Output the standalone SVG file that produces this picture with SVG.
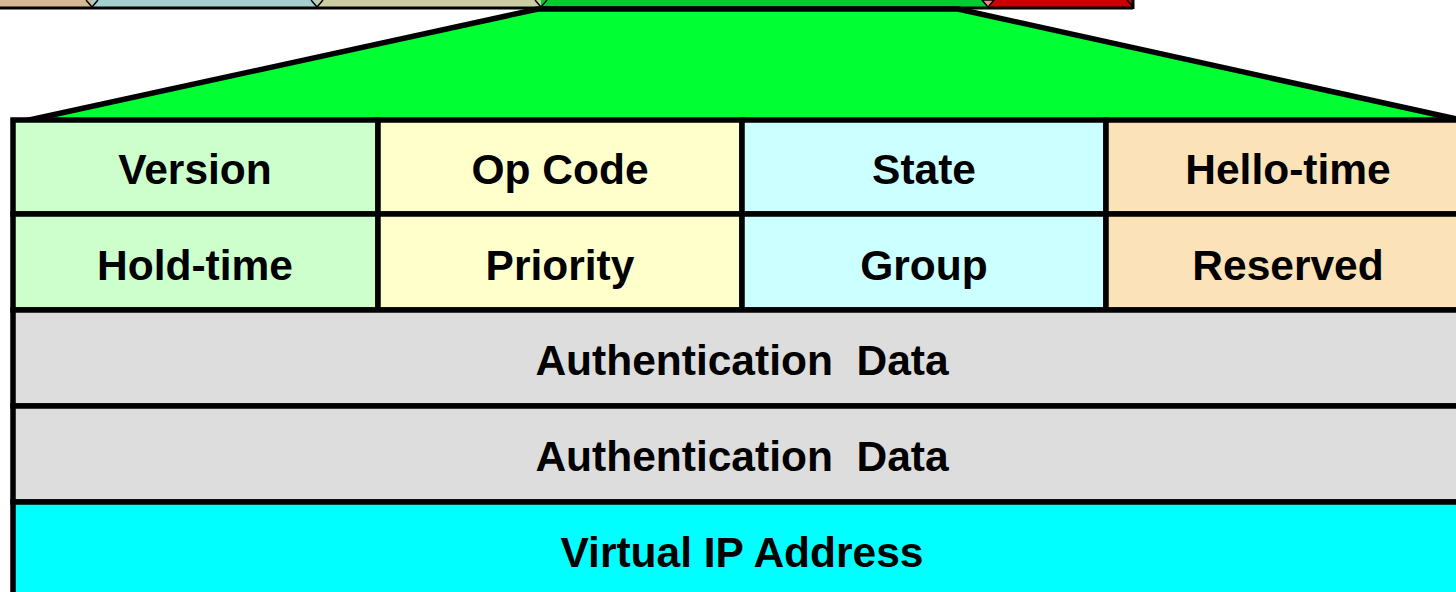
<svg xmlns="http://www.w3.org/2000/svg" width="1456" height="592" viewBox="0 0 1456 592">
<style>
.cell{stroke:#000;stroke-width:5.5}
.t{font-family:"Liberation Sans",Arial,sans-serif;font-weight:bold;font-size:42.5px;fill:#000;text-anchor:middle}
.arr{fill:none;stroke:#000;stroke-width:1.5}
</style>
<rect width="1456" height="592" fill="#fff"/>
<g id="top-strip">
<rect x="0" y="0" width="92" height="8" fill="#d4b896"/>
<rect x="92" y="0" width="225" height="8" fill="#a6cfcf"/>
<rect x="317" y="0" width="224" height="8" fill="#cccca3"/>
<rect x="541" y="0" width="447" height="8" fill="#00cc33"/>
<rect x="988" y="0" width="145" height="8" fill="#cc0000"/>
<line x1="0" y1="8" x2="1133" y2="8" stroke="#000" stroke-width="3"/>
<line x1="1133" y1="0" x2="1133" y2="9" stroke="#000" stroke-width="3"/>
<polyline class="arr" points="86,0 92,7 98,0"/>
<polyline class="arr" points="311,0 317,7 323,0"/>
<polyline class="arr" points="535,0 541,7 547,0"/>
<polygon points="982,0 988,7 994,0" fill="#ff8080" stroke="#000" stroke-width="1.5"/>
<polyline class="arr" points="1127,0 1133,7"/>
</g>
<g id="trapezoid">
<polygon points="538,9 958,9 1470,122 20,122" fill="#00ff33" stroke="#000" stroke-width="5.5" stroke-linejoin="round"/>
</g>
<g id="row1">
<g id="version"><rect class="cell" x="13" y="120" width="365" height="94" fill="#ccffcc"/><text class="t" x="195" y="184">Version</text></g>
<g id="opcode"><rect class="cell" x="378" y="120" width="364" height="94" fill="#ffffcc"/><text class="t" x="560" y="184">Op Code</text></g>
<g id="state"><rect class="cell" x="742" y="120" width="364" height="94" fill="#ccffff"/><text class="t" x="924" y="184">State</text></g>
<g id="hellotime"><rect class="cell" x="1106" y="120" width="364" height="94" fill="#fce2b8"/><text class="t" x="1288" y="184">Hello-time</text></g>
</g>
<g id="row2">
<g id="holdtime"><rect class="cell" x="13" y="214" width="365" height="96" fill="#ccffcc"/><text class="t" x="195" y="280">Hold-time</text></g>
<g id="priority"><rect class="cell" x="378" y="214" width="364" height="96" fill="#ffffcc"/><text class="t" x="560" y="280">Priority</text></g>
<g id="group"><rect class="cell" x="742" y="214" width="364" height="96" fill="#ccffff"/><text class="t" x="924" y="280">Group</text></g>
<g id="reserved"><rect class="cell" x="1106" y="214" width="364" height="96" fill="#fce2b8"/><text class="t" x="1288" y="280">Reserved</text></g>
</g>
<g id="auth1"><rect class="cell" x="13" y="310" width="1457" height="96" fill="#dddddd"/><text class="t" x="742" y="375" xml:space="preserve">Authentication  Data</text></g>
<g id="auth2"><rect class="cell" x="13" y="406" width="1457" height="96" fill="#dddddd"/><text class="t" x="742" y="471" xml:space="preserve">Authentication  Data</text></g>
<g id="vip"><rect class="cell" x="13" y="502" width="1457" height="110" fill="#00ffff"/><text class="t" x="742" y="567">Virtual IP Address</text></g>
</svg>
